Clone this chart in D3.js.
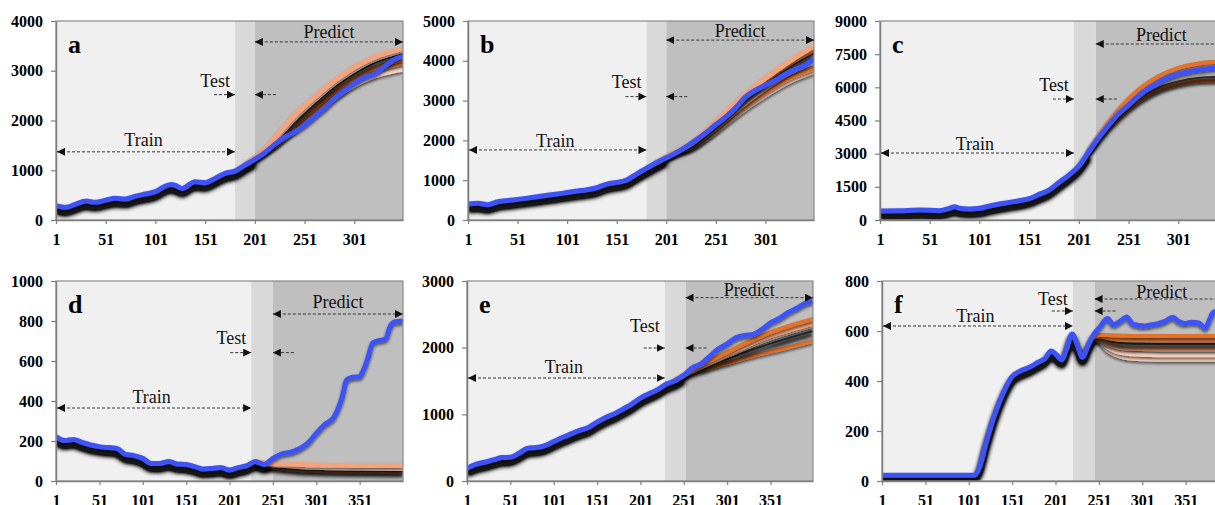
<!DOCTYPE html>
<html>
<head>
<meta charset="utf-8">
<script src="https://cdn.jsdelivr.net/npm/d3@7"></script>
<style>
  body { margin: 0; background: #fff; }
  svg text { font-family: "Liberation Serif", "Times New Roman", "DejaVu Serif", serif; }
</style>
</head>
<body>
<div id="chart"></div>
<script>
// ---- data ----
var xTicksTop = [1, 51, 101, 151, 201, 251, 301];
var xTicksBottom = [1, 51, 101, 151, 201, 251, 301, 351];
var yTicksA = [0, 1000, 2000, 3000, 4000];
var yTicksB = [0, 1000, 2000, 3000, 4000, 5000];
var yTicksC = [0, 1500, 3000, 4500, 6000, 7500, 9000];
var yTicksD = [0, 200, 400, 600, 800, 1000];
var yTicksE = [0, 1000, 2000, 3000];
var yTicksF = [0, 200, 400, 600, 800];

// panel a
var daysA = [1,11,21,31,41,51,61,71,81,91,101,111,117,121,128,141,151,161,171,181,191,201,211,221,231,241,251,261,271,281,291,301,311,321,331,341,350];
var obsA = [290,254,320,381,355,400,435,421,481,522,569,682,716,696,635,770,750,836,937,983,1104,1218,1351,1520,1660,1770,1907,2074,2241,2442,2596,2743,2863,2930,3077,3224,3290];
var ensDaysA = [191,211,221,241,261,281,301,321,341,350];
var ensA = [
  [1104,1420,1650,2100,2470,2800,3070,3270,3400,3450],
  [1104,1400,1600,2030,2400,2740,3010,3220,3350,3400],
  [1104,1385,1550,1950,2320,2660,2930,3150,3290,3340],
  [1104,1375,1520,1900,2250,2580,2850,3050,3180,3220],
  [1104,1365,1490,1850,2200,2520,2790,2990,3110,3150],
  [1104,1355,1470,1800,2120,2440,2700,2880,2990,3020]
];

// panel b
var daysB = [1,11,21,31,41,51,61,71,81,91,101,111,121,131,141,151,161,171,181,191,201,211,221,231,241,251,261,271,281,291,301,311,321,331,341,350];
var obsB = [401,418,385,460,490,518,550,585,620,652,690,727,761,811,903,945,1003,1154,1296,1438,1563,1689,1839,2007,2190,2399,2592,2817,3093,3260,3386,3511,3662,3779,3888,4055];
var ensDaysB = [191,211,226,251,276,301,326,350];
var ensB = [
  [1438,1720,1920,2480,3060,3560,4000,4370],
  [1438,1710,1890,2420,3000,3500,3930,4270],
  [1438,1700,1860,2360,2930,3420,3850,4190],
  [1438,1690,1830,2300,2830,3300,3700,3960],
  [1438,1680,1810,2250,2760,3200,3570,3800],
  [1438,1670,1790,2210,2700,3120,3480,3720]
];

// panel c
var daysC = [1,21,41,61,71,76,81,91,101,111,121,131,141,151,161,171,181,191,201,211,221,231,241,251,261,271,281,291,301,311,321,331,341,350];
var obsC = [406,421,451,421,527,602,527,497,527,632,722,797,873,963,1159,1354,1700,2031,2438,3085,3717,4289,4800,5200,5600,5950,6200,6450,6600,6700,6780,6840,6870,6880];
var ensDaysC = [211,221,241,261,281,301,321,350];
var ensC = [
  [3085,3800,5000,5900,6500,6880,7080,7180],
  [3085,3780,4950,5820,6420,6800,7000,7100],
  [3085,3760,4900,5750,6340,6720,6920,7020],
  [3085,3700,4700,5450,5970,6260,6420,6480],
  [3085,3680,4640,5370,5870,6150,6290,6330]
];

// panel d
var daysD = [1,11,21,31,41,51,61,71,81,91,101,111,121,131,141,151,161,171,181,191,201,211,221,231,241,251,261,271,281,291,301,311,321,331,336,341,351,356,361,366,371,381,386,391,401];
var obsD = [222,202,208,193,180,172,167,163,133,127,113,88,88,97,85,83,72,60,63,68,55,67,77,97,83,113,135,143,160,188,238,283,317,420,505,517,522,560,620,690,700,710,770,795,800];
var ensDaysD = [231,241,261,281,301,341,401];
var ensD = [
  [97,90,86,83,80,78,77],
  [97,85,76,70,66,62,60],
  [97,80,66,58,54,50,48],
  [97,78,63,55,51,47,45]
];

// panel e
var daysE = [1,11,21,31,41,51,61,71,81,91,101,111,121,131,141,151,161,171,181,191,201,211,221,231,241,251,261,271,281,291,301,311,321,331,341,351,361,371,381,391,400];
var obsE = [191,251,281,316,351,356,416,492,502,532,592,652,707,758,803,883,953,1008,1079,1154,1244,1309,1370,1455,1505,1585,1696,1756,1871,1982,2057,2147,2182,2197,2273,2373,2438,2524,2589,2664,2699];
var ensDaysE = [241,251,276,301,326,351,376,400];
var ensE = [
  [1505,1585,1770,1930,2090,2230,2340,2430],
  [1505,1583,1750,1900,2050,2180,2280,2370],
  [1505,1581,1735,1875,2015,2140,2240,2330],
  [1505,1578,1710,1830,1950,2060,2160,2250],
  [1505,1575,1680,1770,1860,1940,2020,2100]
];

// panel f
var daysF = [1,51,101,107,113,121,131,141,151,161,171,181,189,196,202,208,214,220,226,232,239,246,252,261,268,276,283,290,297,304,312,320,328,336,343,350,358,366,374,378,383,390,401];
var obsF = [23,23,23,23,50,152,266,354,418,441,455,475,490,520,505,485,530,588,545,495,545,590,615,650,625,640,656,628,622,620,625,630,640,655,638,630,635,632,612,640,675,680,680];
var ensDaysF = [243,252,261,271,281,301,341,401];
var ensF = [
  [575,584,584,582,581,580,580,580],
  [575,578,572,567,565,564,563,563],
  [575,572,562,554,550,548,548,548],
  [575,566,550,538,532,530,528,528],
  [575,560,535,518,510,505,503,503],
  [575,555,522,503,493,487,485,485]
];

// ---- layout / styles ----
var colors = { orange: "#e3722b", salmon: "#f3a47e", pale: "#fbd3bf", dark: "#2a2a2a" };
var widths = { orange: 4, salmon: 5, pale: 4, dark: 2 };

var panels = [
  { id: "a", left: 56,  top: 21,  w: 347, h: 199, xMax: 350, yMax: 4000, yTicks: yTicksA, xTicks: xTicksTop,
    days: daysA, obs: obsA, ensDays: ensDaysA, ens: ensA, styles: ["salmon","pale","dark","orange","orange","pale"],
    trainEnd: 181, testEnd: 201, ann: [1370, 1490, 2520, 2670, 3580, 3660] },
  { id: "b", left: 468, top: 21,  w: 346, h: 199, xMax: 350, yMax: 5000, yTicks: yTicksB, xTicks: xTicksTop,
    days: daysB, obs: obsB, ensDays: ensDaysB, ens: ensB, styles: ["salmon","orange","dark","pale","orange","pale"],
    trainEnd: 181, testEnd: 201, ann: [1760, 1840, 3100, 3320, 4520, 4600] },
  { id: "c", left: 880, top: 21,  w: 347, h: 199, xMax: 350, yMax: 9000, yTicks: yTicksC, xTicks: xTicksTop,
    days: daysC, obs: obsC, ensDays: ensDaysC, ens: ensC, styles: ["orange","salmon","pale","dark","orange"],
    trainEnd: 196, testEnd: 218, ann: [3030, 3170, 5470, 5850, 7960, 8110] },
  { id: "d", left: 56,  top: 281, w: 347, h: 200, xMax: 401, yMax: 1000, yTicks: yTicksD, xTicks: xTicksBottom,
    days: daysD, obs: obsD, ensDays: ensDaysD, ens: ensD, styles: ["salmon","pale","dark","orange"],
    trainEnd: 226, testEnd: 251, ann: [365, 388, 642, 685, 835, 865] },
  { id: "e", left: 467, top: 281, w: 346, h: 200, xMax: 400, yMax: 3000, yTicks: yTicksE, xTicks: xTicksBottom,
    days: daysE, obs: obsE, ensDays: ensDaysE, ens: ensE, styles: ["orange","salmon","pale","dark","orange"],
    trainEnd: 229, testEnd: 253, ann: [1545, 1620, 1995, 2235, 2750, 2775] },
  { id: "f", left: 882, top: 281, w: 347, h: 200, xMax: 401, yMax: 800, yTicks: yTicksF, xTicks: xTicksBottom,
    days: daysF, obs: obsF, ensDays: ensDaysF, ens: ensF, styles: ["orange","orange","dark","salmon","pale","pale"],
    trainEnd: 221, testEnd: 246, ann: [620, 637, 680, 704, 728, 734] }
];

var svg = d3.select("#chart").append("svg")
  .attr("width", 1215)
  .attr("height", 505);

var defs = svg.append("defs");

// blurred dark shadow under a curve
function makeShadow(id, blur, dy, strength) {
  var f = defs.append("filter").attr("id", id)
    .attr("filterUnits", "userSpaceOnUse")
    .attr("x", -100).attr("y", -100).attr("width", 1600).attr("height", 800);
  f.append("feGaussianBlur").attr("in", "SourceAlpha").attr("stdDeviation", blur).attr("result", "blur");
  f.append("feOffset").attr("in", "blur").attr("dy", dy).attr("result", "off");
  f.append("feComponentTransfer").attr("in", "off").attr("result", "dark")
    .append("feFuncA").attr("type", "linear").attr("slope", strength);
  var m = f.append("feMerge");
  m.append("feMergeNode").attr("in", "dark");
  m.append("feMergeNode").attr("in", "SourceGraphic");
}
makeShadow("shadow", 2.4, 3, 2.2);
makeShadow("soft", 1.6, 1.5, 0.6);

defs.append("marker").attr("id", "arrow")
  .attr("viewBox", "0 0 10 10").attr("refX", 10).attr("refY", 5)
  .attr("markerWidth", 8).attr("markerHeight", 8)
  .attr("markerUnits", "userSpaceOnUse")
  .attr("orient", "auto-start-reverse")
  .append("path").attr("d", "M0,0L10,5L0,10Z").attr("fill", "#111");

panels.forEach(function (p) {
  var g = svg.append("g").attr("transform", "translate(" + p.left + "," + p.top + ")");
  var x = d3.scaleLinear().domain([1, p.xMax]).range([0, p.w]);
  var y = d3.scaleLinear().domain([0, p.yMax]).range([p.h, 0]);

  // train / test / predict backgrounds
  g.append("rect").attr("x", 0).attr("y", 0)
    .attr("width", x(p.trainEnd)).attr("height", p.h).attr("fill", "#f0f0f0");
  g.append("rect").attr("x", x(p.trainEnd)).attr("y", 0)
    .attr("width", x(p.testEnd) - x(p.trainEnd)).attr("height", p.h).attr("fill", "#d9d9d9");
  g.append("rect").attr("x", x(p.testEnd)).attr("y", 0)
    .attr("width", p.w - x(p.testEnd)).attr("height", p.h).attr("fill", "#bfbfbf");

  defs.append("clipPath").attr("id", "clip-" + p.id)
    .append("rect").attr("x", 0).attr("y", 0).attr("width", p.w).attr("height", p.h);
  var plot = g.append("g").attr("clip-path", "url(#clip-" + p.id + ")");

  var obsLine = d3.line()
    .x(function (d) { return x(d[0]); })
    .y(function (d) { return y(d[1]); })
    .curve(d3.curveMonotoneX);
  var obsPts = p.days.map(function (d, i) { return [d, p.obs[i]]; });
  var fitPts = obsPts.filter(function (d) { return d[0] <= p.testEnd; });

  // fitted part: heavy black blurred line under the observed one
  plot.append("path")
    .attr("d", obsLine(fitPts))
    .attr("fill", "none")
    .attr("stroke", "#000")
    .attr("stroke-width", 5)
    .attr("opacity", 0.9)
    .attr("transform", "translate(0,2.5)")
    .attr("filter", "url(#shadow)");

  // predicted ensemble, lowest first
  var ensLine = d3.line()
    .x(function (d, i) { return x(p.ensDays[i]); })
    .y(function (d) { return y(d); })
    .curve(d3.curveMonotoneX);
  for (var i = p.ens.length - 1; i >= 0; i--) {
    var s = p.styles[i];
    plot.append("path")
      .attr("d", ensLine(p.ens[i]))
      .attr("fill", "none")
      .attr("stroke", colors[s])
      .attr("stroke-width", widths[s])
      .attr("filter", s === "dark" ? "url(#shadow)" : "url(#soft)");
  }

  // observed line
  plot.append("path")
    .attr("d", obsLine(obsPts))
    .attr("fill", "none")
    .attr("stroke", "#3c53f6")
    .attr("stroke-width", 5)
    .attr("stroke-linejoin", "round")
    .attr("filter", "url(#soft)");

  // border
  g.append("rect").attr("x", 0).attr("y", 0).attr("width", p.w).attr("height", p.h)
    .attr("fill", "none").attr("stroke", "#8a8a8a").attr("stroke-width", 1.2);

  // axes
  var yAxis = g.append("g")
    .call(d3.axisLeft(y).tickValues(p.yTicks).tickFormat(d3.format("d"))
      .tickSize(5).tickSizeOuter(0).tickPadding(8));
  var xAxis = g.append("g")
    .attr("transform", "translate(0," + p.h + ")")
    .call(d3.axisBottom(x).tickValues(p.xTicks).tickFormat(d3.format("d"))
      .tickSize(4).tickSizeOuter(0).tickPadding(9.5));
  [yAxis, xAxis].forEach(function (ax) {
    ax.attr("font-family", "Liberation Serif, Times New Roman, serif")
      .attr("font-size", 16).attr("font-weight", "bold");
    ax.select(".domain").attr("stroke", "#7f7f7f").attr("stroke-width", 1.5);
    ax.selectAll(".tick line").attr("stroke", "#7f7f7f").attr("stroke-width", 1.2);
    ax.selectAll(".tick text").attr("fill", "#000");
  });

  // annotations
  var xt = x(p.trainEnd), xs = x(p.testEnd);
  function dashed(x1, x2, yy, both) {
    g.append("line")
      .attr("x1", x1).attr("x2", x2).attr("y1", yy).attr("y2", yy)
      .attr("stroke", "#333").attr("stroke-width", 1)
      .attr("stroke-dasharray", "3,2")
      .attr("marker-end", "url(#arrow)")
      .attr("marker-start", both ? "url(#arrow)" : null);
  }
  function label(txt, xx, yy, anchor) {
    g.append("text").attr("x", xx).attr("y", yy)
      .attr("text-anchor", anchor).attr("font-size", 18).attr("fill", "#111").text(txt);
  }
  // train
  dashed(1, xt, y(p.ann[0]), true);
  label("Train", xt / 2 - 2, y(p.ann[1]), "middle");
  // test
  dashed(xt - 21, xt, y(p.ann[2]), false);
  dashed(xs + 21, xs, y(p.ann[2]), false);
  label("Test", xt - 5, y(p.ann[3]), "end");
  // predict
  dashed(xs, p.w, y(p.ann[4]), true);
  label("Predict", (xs + p.w) / 2, y(p.ann[5]), "middle");

  // panel letter
  g.append("text").attr("x", 12).attr("y", 32)
    .attr("font-size", 26).attr("font-weight", "bold").attr("fill", "#000")
    .text(p.id);
});
</script>
</body>
</html>
